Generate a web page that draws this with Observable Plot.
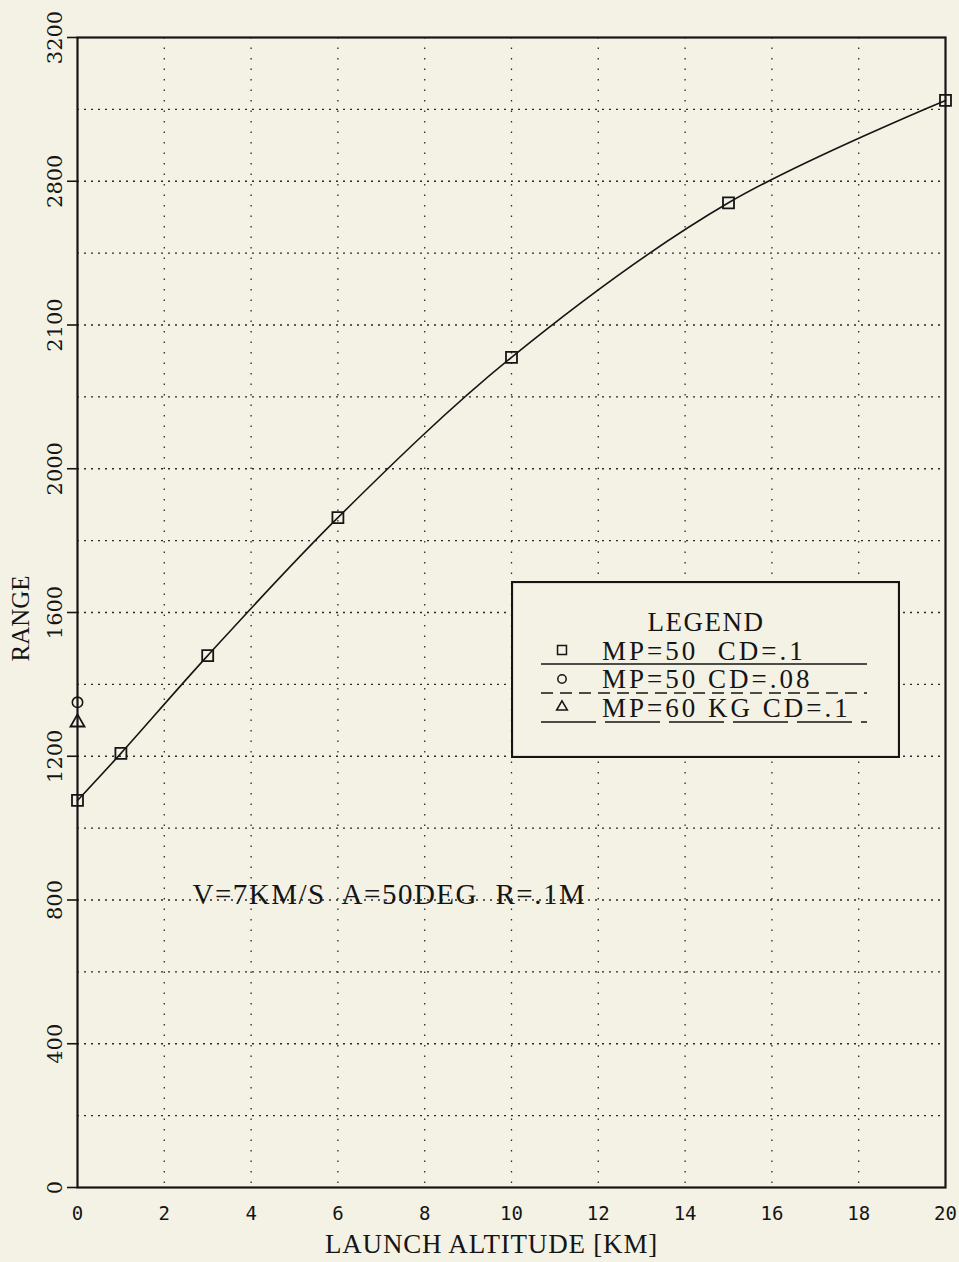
<!DOCTYPE html>
<html><head><meta charset="utf-8">
<script src="https://cdn.jsdelivr.net/npm/d3@7"></script>
<script src="https://cdn.jsdelivr.net/npm/@observablehq/plot@0.6"></script>
<style>
html,body{margin:0;padding:0;background:#f4f2e5;}
#chart{position:relative;width:959px;height:1262px;overflow:hidden;}
#legend{position:absolute;left:511px;top:581px;}
svg text{white-space:pre;}
</style></head><body><div id="chart"></div>
<script>
// ---- data ----
const altitude = [0, 1, 3, 6, 10, 15, 20];
const rangeMp50Cd10 = [1077, 1208, 1480, 1864, 2310, 2740, 3025];
const altitudeMp50Cd08 = [0];
const rangeMp50Cd08 = [1350];
const altitudeMp60Cd10 = [0];
const rangeMp60Cd10 = [1294];
const seriesNames = ["MP=50  CD=.1", "MP=50 CD=.08", "MP=60 KG CD=.1"];
const xTicks = [0, 2, 4, 6, 8, 10, 12, 14, 16, 18, 20];
const yTicks = [0, 400, 800, 1200, 1600, 2000, 2400, 2800, 3200];
const yTickLabels = ["0", "400", "800", "1200", "1600", "2000", "2100", "2800", "3200"];
const xGrid = [2, 4, 6, 8, 10, 12, 14, 16, 18];
const yGrid = [200, 400, 600, 800, 1000, 1200, 1400, 1600, 1800, 2000, 2200, 2400, 2600, 2800, 3000];
const note = "V=7KM/S  A=50DEG  R=.1M";
const noteAt = {x: 2.65, y: 800};
const xTitle = "LAUNCH ALTITUDE [KM]";
const yTitle = "RANGE";
const legendTitle = "LEGEND";

// ---- tables ----
const s1 = altitude.map((x, i) => ({x, y: rangeMp50Cd10[i]}));
const s2 = altitudeMp50Cd08.map((x, i) => ({x, y: rangeMp50Cd08[i]}));
const s3 = altitudeMp60Cd10.map((x, i) => ({x, y: rangeMp60Cd10[i]}));

const serif = "'Liberation Serif', 'Times New Roman', serif";
const ink = "#151515";
const bg = "#f4f2e5";

const plot = Plot.plot({
  width: 959, height: 1262,
  marginLeft: 77, marginRight: 14, marginTop: 37, marginBottom: 75,
  x: {domain: [0, 20], axis: null},
  y: {domain: [0, 3200]},
  style: {background: "transparent", fontFamily: serif, color: ink},
  marks: [
    Plot.ruleY(yGrid, {stroke: "#2a2a2a", strokeDasharray: "2,5", strokeWidth: 1.3}),
    Plot.ruleX(xGrid, {stroke: "#2a2a2a", strokeDasharray: "1.5,9", strokeWidth: 1.3}),
    Plot.axisY(yTicks, {tickSize: 10, tickFormat: () => "", label: null, strokeWidth: 1.6, stroke: ink}),
    Plot.text(yTicks, {y: d => d, frameAnchor: "left", dx: -22, rotate: -90,
      text: (d, i) => yTickLabels[i], fontFamily: "'DejaVu Serif', serif", fontSize: 21,
      lineAnchor: "middle", textAnchor: "middle", fill: ink}),
    Plot.text(xTicks, {x: d => d, frameAnchor: "bottom", dy: 26, text: d => String(d),
      fontFamily: "'DejaVu Sans Mono', monospace", fontSize: 19, lineAnchor: "middle", fill: ink}),
    Plot.frame({stroke: ink, strokeWidth: 2.2}),
    Plot.line(s1, {x: "x", y: "y", curve: "catmull-rom", stroke: ink, strokeWidth: 1.6}),
    Plot.dot(s1, {x: "x", y: "y", symbol: "square", r: 6.2, stroke: ink, strokeWidth: 1.8, fill: "none"}),
    Plot.dot(s2, {x: "x", y: "y", symbol: "circle", r: 5.2, stroke: ink, strokeWidth: 1.6, fill: "none"}),
    Plot.dot(s3, {x: "x", y: "y", symbol: "triangle", r: 5.2, stroke: ink, strokeWidth: 1.8, fill: "none"}),
    Plot.text([note], {x: () => noteAt.x, y: () => noteAt.y, text: d => d, textAnchor: "start",
      lineAnchor: "bottom", dy: 4, fontSize: 29, fontFamily: serif, fill: ink}),
    Plot.text([xTitle], {frameAnchor: "bottom", dx: -20, dy: 57, text: d => d, lineAnchor: "middle",
      fontSize: 27, fontFamily: serif, fill: ink}),
    Plot.text([yTitle], {frameAnchor: "left", dx: -57, dy: 6, rotate: -90, text: d => d,
      lineAnchor: "middle", textAnchor: "middle", fontSize: 25, fontFamily: serif, fill: ink})
  ]
});

const root = d3.select(plot);
root.selectAll("text").filter(function () { return this.textContent === note; }).style("letter-spacing", "1.5px");
root.selectAll("text").filter(function () { return this.textContent === xTitle; }).style("letter-spacing", "0.8px");

const chart = document.getElementById("chart");
chart.appendChild(plot);

// ---- legend (boxed, inside the plot area) ----
const lw = 389, lh = 177;
const leg = d3.create("svg").attr("id", "legend").attr("width", lw).attr("height", lh)
  .style("font-family", serif);
leg.append("rect").attr("x", 1).attr("y", 1).attr("width", lw - 2).attr("height", lh - 2)
  .attr("fill", bg).attr("stroke", ink).attr("stroke-width", 2.2);
leg.append("text").attr("x", 195).attr("y", 50).attr("text-anchor", "middle")
  .attr("font-size", 27).style("letter-spacing", "1.5px").attr("fill", ink).text(legendTitle);
const symbols = [d3.symbolSquare, d3.symbolCircle, d3.symbolTriangle];
const symSizes = [80, 55, 50];
const dashes = [null, "12,7", "55,9"];
const rowsY = [69, 98, 126];
const baseY = [79, 107, 136];
const lineY = [83, 112, 141];
seriesNames.forEach((name, i) => {
  leg.append("path").attr("d", d3.symbol(symbols[i], symSizes[i])())
    .attr("transform", `translate(51,${rowsY[i]})`)
    .attr("fill", "none").attr("stroke", ink).attr("stroke-width", 1.5);
  leg.append("text").attr("x", 91).attr("y", baseY[i]).attr("font-size", 27)
    .style("letter-spacing", "3px").attr("fill", ink).text(name);
  leg.append("line").attr("x1", 30).attr("x2", 356).attr("y1", lineY[i]).attr("y2", lineY[i])
    .attr("stroke", ink).attr("stroke-width", 1.6).attr("stroke-dasharray", dashes[i]);
});
chart.appendChild(leg.node());
</script>
</body></html>
